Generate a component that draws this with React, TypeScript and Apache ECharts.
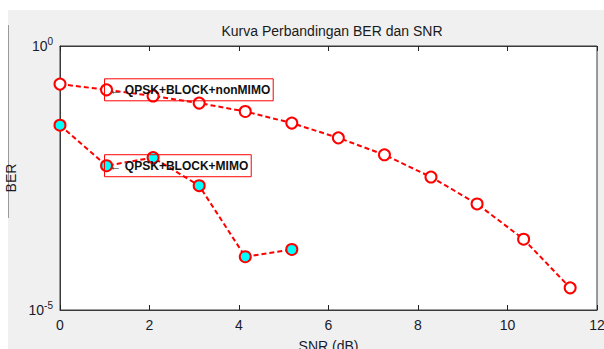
import React, { useEffect, useRef } from "react";
import * as echarts from "echarts";

const titleText = "Kurva Perbandingan BER dan SNR";
const xName = "SNR (dB)";
const yName = "BER";
const xTicks = [0, 2, 4, 6, 8, 10, 12];

const snrNonMimo = [0, 1.04, 2.08, 3.11, 4.14, 5.18, 6.22, 7.25, 8.29, 9.32, 10.36, 11.4];
const berNonMimo = [0.19, 0.148, 0.113, 0.083, 0.0575, 0.0347, 0.0182, 0.0087, 0.0033, 0.00102, 0.000219, 0.0000263];
const snrMimo = [0, 1.04, 2.08, 3.11, 4.14, 5.18];
const berMimo = [0.0316, 0.0054, 0.0077, 0.00226, 0.000102, 0.00014];

const labelNonMimo = "\u2190 QPSK+BLOCK+nonMIMO";
const labelMimo = "\u2190 QPSK+BLOCK+MIMO";
const annotIndex = 1;

const FONT = "'Liberation Sans', Arial, sans-serif";

export default function App() {
  const ref = useRef<HTMLDivElement>(null);
  useEffect(() => {
    if (!ref.current) return;
    const chart = echarts.init(ref.current, null, { renderer: "svg" });
    const xMin = xTicks[0];
    const xMax = xTicks[xTicks.length - 1];
    const axisColor = "#3a3a3a";
    const textColor = "#1a1a2a";
    const lineStyle = { color: "#ff0000", width: 2, type: [5, 3] as any };
    chart.setOption({
      animation: false,
      backgroundColor: "transparent",
      title: {
        text: titleText,
        left: 327,
        top: 19,
        textAlign: "center",
        textStyle: { fontFamily: FONT, fontSize: 14, fontWeight: "normal", color: "#1a1a1a" },
      },
      grid: {
        left: 60,
        right: 7,
        top: 46,
        bottom: 39,
        containLabel: false,
        outerBoundsMode: "none",
        show: true,
        backgroundColor: "#ffffff",
        borderColor: axisColor,
        borderWidth: 1,
      },
      xAxis: [
        {
          type: "value",
          min: xMin,
          max: xMax,
          interval: 2,
          name: xName,
          nameLocation: "middle",
          nameGap: 29,
          nameTextStyle: { fontFamily: FONT, fontSize: 14, color: textColor },
          axisLine: { show: true, lineStyle: { color: axisColor, width: 1 } },
          axisTick: { show: true, inside: true, length: 5, lineStyle: { color: "#222" } },
          axisLabel: { fontFamily: FONT, fontSize: 14, color: textColor, margin: 8 },
          splitLine: { show: false },
        },
        {
          type: "value",
          position: "top",
          min: xMin,
          max: xMax,
          interval: 2,
          axisLine: { show: true, lineStyle: { color: axisColor, width: 1 } },
          axisTick: { show: true, inside: true, length: 5, lineStyle: { color: "#222" } },
          axisLabel: { show: false },
          splitLine: { show: false },
        },
      ],
      yAxis: {
        type: "log",
        logBase: 10,
        min: 0.00001,
        max: 1,
        name: yName,
        nameLocation: "middle",
        nameGap: 35,
        nameTextStyle: { fontFamily: FONT, fontSize: 14, color: textColor },
        axisLine: { show: true, lineStyle: { color: axisColor, width: 1 } },
        axisTick: { show: false },
        splitLine: { show: false },
        axisLabel: {
          margin: 7,
          formatter: (v: number) => {
            const e = Math.round(Math.log10(v));
            if (e === 0) return "{b|10}{s|0}";
            if (e === -5) return "{b|10}{s|-5}";
            return "";
          },
          rich: {
            b: { fontFamily: FONT, fontSize: 14, color: textColor },
            s: { fontFamily: FONT, fontSize: 10, color: textColor, padding: [0, 0, 10, 0] },
          },
        },
      },
      series: [
        {
          type: "line",
          data: snrNonMimo.map((x, i) => [x, berNonMimo[i]]),
          symbol: "circle",
          symbolSize: 11,
          lineStyle,
          itemStyle: { color: "#ffffff", borderColor: "#ff0000", borderWidth: 2 },
          z: 3,
        },
        {
          type: "line",
          data: snrMimo.map((x, i) => [x, berMimo[i]]),
          symbol: "circle",
          symbolSize: 11,
          lineStyle,
          itemStyle: { color: "#00ffff", borderColor: "#ff0000", borderWidth: 2 },
          z: 3,
        },
      ],
    });

    const p1 = chart.convertToPixel({ gridIndex: 0 }, [snrNonMimo[annotIndex], berNonMimo[annotIndex]]) as number[];
    const p2 = chart.convertToPixel({ gridIndex: 0 }, [snrMimo[annotIndex], berMimo[annotIndex]]) as number[];
    const w = chart.getWidth();
    const h = chart.getHeight();
    const annot = (p: number[], text: string) => ({
      type: "text",
      x: p[0] - 2,
      y: p[1],
      z: 100,
      style: {
        text,
        fontFamily: FONT,
        fontSize: 12,
        fontWeight: "bold",
        fill: "#111",
        verticalAlign: "middle",
        align: "left",
        borderColor: "#ff0000",
        borderWidth: 1,
        padding: [5, 3, 5, 5],
      },
    });
    chart.setOption({
      graphic: [
        {
          type: "rect",
          z: -10,
          silent: true,
          shape: { x: 8, y: 10, width: w - 8, height: h - 10 },
          style: { fill: "#f0f0f0" },
        },
        {
          type: "line",
          z: -9,
          silent: true,
          shape: { x1: 8.5, y1: 25, x2: 8.5, y2: 218 },
          style: { stroke: "#9a9a9a", lineWidth: 1 },
        },
        annot(p1, labelNonMimo),
        annot(p2, labelMimo),
      ],
    });
    return () => chart.dispose();
  }, []);
  return (
    <div
      ref={ref}
      style={{ position: "absolute", left: 0, top: 0, width: 604, height: 349, background: "#ffffff" }}
    />
  );
}
